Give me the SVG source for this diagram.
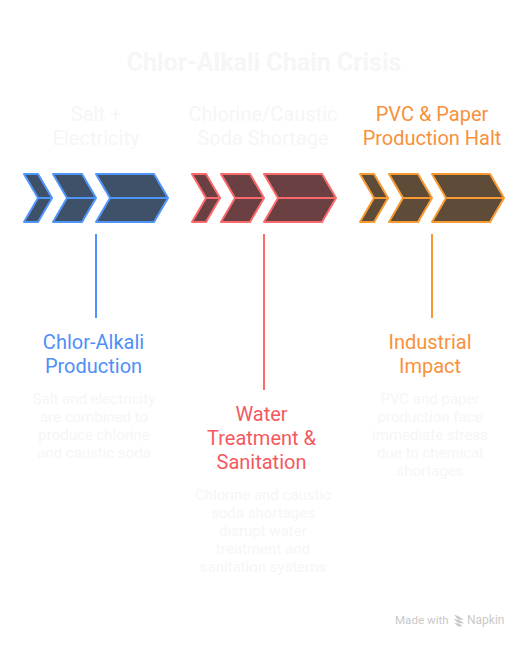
<svg xmlns="http://www.w3.org/2000/svg" width="528" height="648" viewBox="0 0 528 648">
<style>
text{font-family:Roboto,"Liberation Sans",sans-serif;text-anchor:middle}
.title{font-size:25px;font-weight:700;fill:#f5f6f7}
.head{font-size:20px}
.body{font-size:15px;fill:#f6f6f6}
.pale{fill:#f5f6f7}
.blue{fill:#4f8ff7}.red{fill:#f4595f}.orange{fill:#f8913c}
.chev{stroke-width:2;stroke-linejoin:round}
.cb{fill:#3f5069;stroke:#5096fa}.cr{fill:#6b4042;stroke:#fa6a6c}.co{fill:#5e4c38;stroke:#f79a32}
.link{stroke-width:2;fill:none}
.foot{font-size:11.6px;fill:#c9c9c9;text-anchor:start}
</style>
<rect width="528" height="648" fill="#ffffff"/>
<text class="title" x="264" y="71">Chlor-Alkali Chain Crisis</text>
<g id="connectors">
<line class="link" x1="96" y1="234" x2="96" y2="318" stroke="#5096fa"/>
<line class="link" x1="264" y1="234" x2="264" y2="390" stroke="#fa6a6c"/>
<line class="link" x1="432" y1="234" x2="432" y2="318" stroke="#f79a32"/>
</g>
<g id="node-blue">
<text class="head pale" x="96" y="121">Salt +</text>
<text class="head pale" x="96" y="145">Electricity</text>
<path class="chev cb" d="M24 174H38L52 198L38 222H24L38 198ZM38 198H52M53 174H82L96 198L82 222H53L67 198ZM67 198H96M96 174H154L168 198L154 222H96L110 198ZM110 198H168"/>
<text class="head blue" x="93.500" y="349">Chlor-Alkali</text>
<text class="head blue" x="93.500" y="373">Production</text>
<text class="body" x="94" y="404">Salt and electricity</text>
<text class="body" x="94" y="422">are combined to</text>
<text class="body" x="94" y="440">produce chlorine</text>
<text class="body" x="94" y="458">and caustic soda</text>
</g>
<g id="node-red">
<text class="head pale" x="263" y="121">Chlorine/Caustic</text>
<text class="head pale" x="263" y="145">Soda Shortage</text>
<path class="chev cr" d="M192 174H206L220 198L206 222H192L206 198ZM206 198H220M221 174H250L264 198L250 222H221L235 198ZM235 198H264M264 174H322L336 198L322 222H264L278 198ZM278 198H336"/>
<text class="head red" x="261.500" y="421">Water</text>
<text class="head red" x="261.500" y="445">Treatment &amp;</text>
<text class="head red" x="261.500" y="469">Sanitation</text>
<text class="body" x="263" y="500">Chlorine and caustic</text>
<text class="body" x="263" y="518">soda shortages</text>
<text class="body" x="263" y="536">disrupt water</text>
<text class="body" x="263" y="554">treatment and</text>
<text class="body" x="263" y="572">sanitation systems</text>
</g>
<g id="node-orange">
<text class="head orange" x="432" y="121">PVC &amp; Paper</text>
<text class="head orange" x="432" y="145">Production Halt</text>
<path class="chev co" d="M360 174H374L388 198L374 222H360L374 198ZM374 198H388M389 174H418L432 198L418 222H389L403 198ZM403 198H432M432 174H490L504 198L490 222H432L446 198ZM446 198H504"/>
<text class="head orange" x="430" y="349">Industrial</text>
<text class="head orange" x="430" y="373">Impact</text>
<text class="body" x="430" y="404">PVC and paper</text>
<text class="body" x="430" y="422">production face</text>
<text class="body" x="430" y="440">immediate stress</text>
<text class="body" x="430" y="458">due to chemical</text>
<text class="body" x="430" y="476">shortages</text>
</g>
<g id="watermark">
<text class="foot" x="395" y="624">Made with</text>
<path d="M454 614.500L459 616.500L464 620L458 619.500ZM453.500 618.500L460 620.500L464.500 623.500L458 623ZM454 622.500L460 624L462.500 626.500L458 626.500Z" fill="#c9c9c9"/>
<text class="foot" style="font-size:12px" x="467" y="624">Napkin</text>
</g>
</svg>
